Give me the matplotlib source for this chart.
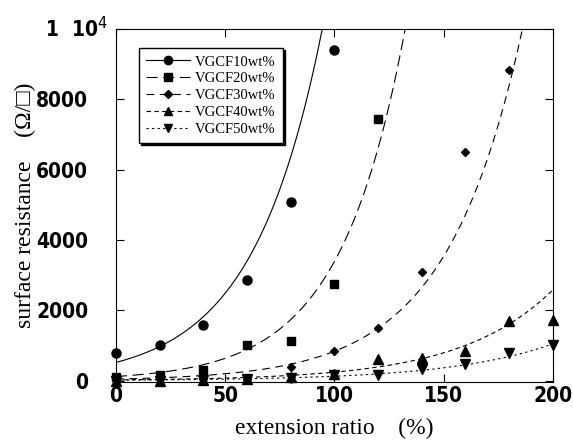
import numpy as np
import matplotlib.pyplot as plt

# extension ratio (%) where each sample was measured
ext = [0, 20, 40, 60, 80, 100, 120, 140, 160, 180, 200]

# surface resistance (ohm/sq)
r10 = [800, 1030, 1590, 2850, 5070, 9400]
r20 = [110, 170, 310, 1020, 1140, 2760, 7440]
r30 = [20, 40, 50, 60, 380, 855, 1490, 3100, 6500, 8830]
r40 = [0, 0, 30, 60, 100, 200, 620, 640, 855, 1690, 1740]
r50 = [0, 0, 20, 40, 80, 150, 170, 320, 480, 800, 1030]

# exponential fit curves y = a * exp(b * x)
fit_a = [520, 120, 47, 23, 15.7]
fit_b = [0.0313, 0.0334, 0.0288, 0.0236, 0.0210]

labels = ["VGCF10wt%", "VGCF20wt%", "VGCF30wt%", "VGCF40wt%", "VGCF50wt%"]
markers = ["o", "s", "D", "^", "v"]
msizes = [6.5, 6, 4.5, 6.5, 6.5]
dashes = [None, (10, 5), (7, 5), (4, 3), (2, 3)]

serif = ["Liberation Serif", "Noto Sans CJK JP", "DejaVu Sans"]
tick_font = dict(family="DejaVu Sans", stretch="condensed", weight="bold",
                 size=15)

fig = plt.figure(figsize=(5.73, 4.40), dpi=100)
ax = fig.add_axes([0.2024, 0.1307, 0.7622, 0.8034])

xx = np.linspace(0, 200, 400)
series = [r10, r20, r30, r40, r50]
for i, ys in enumerate(series):
    xs = ext[:len(ys)]
    ln, = ax.plot(xx, fit_a[i] * np.exp(fit_b[i] * xx), color="black",
                  lw=0.8)
    if dashes[i] is not None:
        ln.set_dashes(dashes[i])
    ax.plot(xs, ys, ls="none", marker=markers[i], ms=msizes[i],
            color="black", zorder=3, clip_on=False)

ax.set_xlim(0, 200)
ax.set_ylim(-50, 10000)
ax.set_xticks([0, 50, 100, 150, 200])
ax.set_yticks([0, 2000, 4000, 6000, 8000, 10000])
ax.set_yticklabels(["0", "2000", "4000", "6000", "8000", ""])
ax.tick_params(direction="in", length=6, width=0.8, top=True, right=True)
ax.tick_params(axis="x", pad=2.5)
ax.tick_params(axis="y", pad=20)
for t in ax.get_xticklabels() + ax.get_yticklabels():
    t.set_fontproperties(tick_font)
for s in ax.spines.values():
    s.set_linewidth(0.8)

# top y label sits a bit further right than the others
ax.text(-0.018, 1.0, "1  10$^{4}$", transform=ax.transAxes, ha="right",
        va="center", fontproperties=tick_font)

ax.set_xlabel("extension ratio\u3000(%)", family=serif, fontsize=17)
ax.set_ylabel("surface resistance\u3000(Ω/□)", family=serif, fontsize=17)
ax.xaxis.set_label_coords(0.5, -0.1)
ax.yaxis.set_label_coords(-0.182, 0.5)

# legend handles: keep the marker in the middle of the line sample
handles = []
for i in range(5):
    h, = ax.plot([], [], color="black", lw=0.8, marker=markers[i],
                 ms=msizes[i] - 0.5)
    if dashes[i] is not None:
        h.set_dashes(dashes[i])
    handles.append(h)
leg = ax.legend(handles, labels, loc="upper left",
                bbox_to_anchor=(0.053, 0.946), borderaxespad=0,
                prop=dict(family=serif, size=10.5), handlelength=3.0,
                handletextpad=0.35, labelspacing=0.25, numpoints=1,
                fancybox=False, edgecolor="black", framealpha=1,
                shadow={"color": "black", "alpha": 1, "ox": 1.5, "oy": -1.5},
                borderpad=0.5)
leg.get_frame().set_linewidth(1.0)

fig.savefig("out.png", dpi=100)
